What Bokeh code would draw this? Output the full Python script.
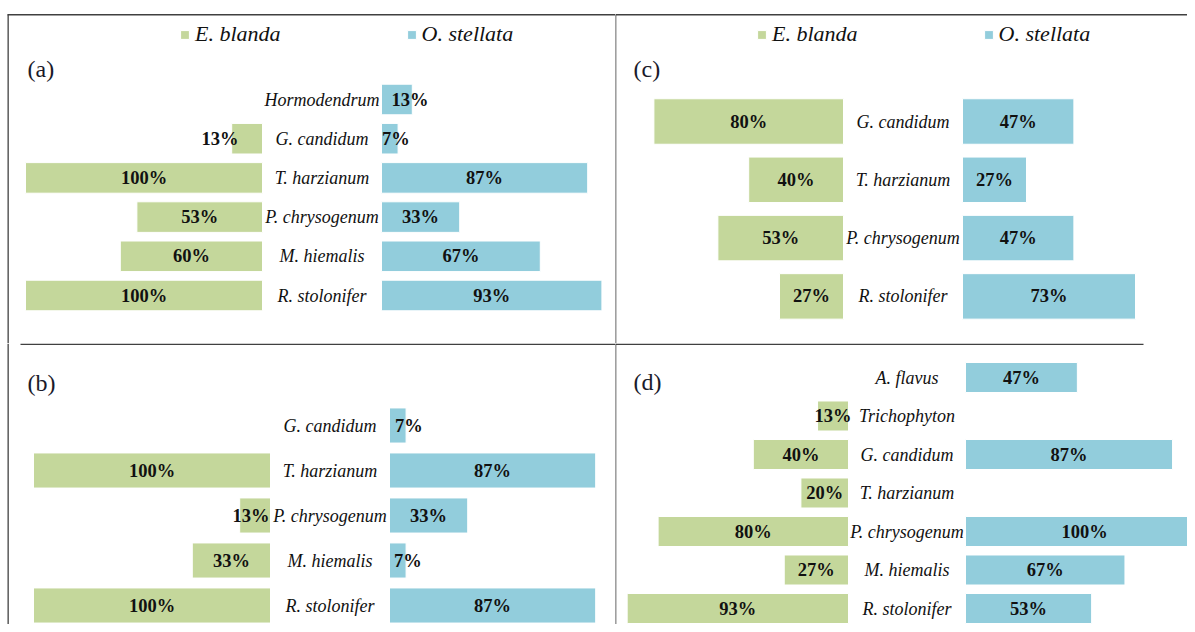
from bokeh.plotting import figure
from bokeh.models import Range1d, ColumnDataSource, Legend, LegendItem, Label, BoxAnnotation
from bokeh.layouts import row, column
from bokeh.embed import file_html
from bokeh.resources import INLINE
from bokeh.core.properties import value

# ---------------- data ----------------
SERIES = ["E. blanda", "O. stellata"]

a_species = ["Hormodendrum", "G. candidum", "T. harzianum", "P. chrysogenum", "M. hiemalis", "R. stolonifer"]
a_blanda = [0, 13, 100, 53, 60, 100]
a_stellata = [13, 7, 87, 33, 67, 93]

b_species = ["G. candidum", "T. harzianum", "P. chrysogenum", "M. hiemalis", "R. stolonifer"]
b_blanda = [0, 100, 13, 33, 100]
b_stellata = [7, 87, 33, 7, 87]

c_species = ["G. candidum", "T. harzianum", "P. chrysogenum", "R. stolonifer"]
c_blanda = [80, 40, 53, 27]
c_stellata = [47, 27, 47, 73]

d_species = ["A. flavus", "Trichophyton", "G. candidum", "T. harzianum", "P. chrysogenum", "M. hiemalis", "R. stolonifer"]
d_blanda = [0, 13, 40, 20, 80, 27, 93]
d_stellata = [47, 0, 87, 0, 100, 67, 53]

# ---------------- style ----------------
GREEN = "#c4d79b"
BLUE = "#92cddc"
LINE = "#404040"
FONT = "Liberation Serif"

# panel geometry in picture pixels
SPEC = {
    "a": dict(x0=0, y0=0, w=615, h=343, e_base=262, o_base=381, scale=2.37, row0=99, spacing=39.2,
              tag=(27, 275), legend=(179, 296)),
    "b": dict(x0=0, y0=343, w=615, h=281, e_base=270, o_base=389, scale=2.37, row0=425, spacing=45.0,
              tag=(27, 242)),
    "c": dict(x0=615, y0=0, w=572, h=343, e_base=843, o_base=962, scale=2.37, row0=121, spacing=58.3,
              tag=(18, 275), legend=(141, 296)),
    "d": dict(x0=615, y0=343, w=572, h=281, e_base=848, o_base=965, scale=2.38, row0=377, spacing=38.5,
              tag=(18, 243)),
}
# label nudges (px) for narrow bars
E_DX = {"a": {1: -27}, "b": {2: -4}}
O_DX = {"a": {0: 13, 1: 6}, "b": {0: 11, 3: 10}}


def rule(p, s, L, R, T, B):
    """thin dark rule given in picture px"""
    p.add_layout(BoxAnnotation(
        left=L - s["x0"], right=R - s["x0"],
        top=s["h"] - (T - s["y0"]), bottom=s["h"] - (B - s["y0"]),
        left_units="screen", right_units="screen", top_units="screen", bottom_units="screen",
        fill_color=LINE, fill_alpha=1, line_color=None, level="overlay"))


def make_panel(key, species, ev, ov):
    s = SPEC[key]
    c = (s["e_base"] + s["o_base"]) / 2
    g = (s["o_base"] - s["e_base"]) / 2 / s["scale"]
    xs = (s["x0"] - c) / s["scale"]
    xe = (s["x0"] + s["w"] - c) / s["scale"]
    ytop = (s["row0"] - s["y0"]) / s["spacing"]
    ybot = -(s["y0"] + s["h"] - s["row0"]) / s["spacing"]

    p = figure(width=s["w"], height=s["h"], x_range=Range1d(xs, xe), y_range=Range1d(ybot, ytop),
               output_backend="svg", toolbar_location=None, x_axis_location=None,
               y_axis_location=None, min_border=0, outline_line_color=None)
    p.grid.visible = False
    p.background_fill_color = "white"

    ys = [-i for i in range(len(species))]
    e_idx = [i for i, v in enumerate(ev) if v > 0]
    o_idx = [i for i, v in enumerate(ov) if v > 0]
    esrc = ColumnDataSource(dict(
        y=[ys[i] for i in e_idx],
        left=[-g - ev[i] for i in e_idx],
        right=[-g] * len(e_idx),
        mid=[-g - ev[i] / 2 for i in e_idx],
        lab=[f"{ev[i]}%" for i in e_idx],
        dx=[E_DX.get(key, {}).get(i, 0) for i in e_idx],
    ))
    osrc = ColumnDataSource(dict(
        y=[ys[i] for i in o_idx],
        left=[g] * len(o_idx),
        right=[g + ov[i] for i in o_idx],
        mid=[g + ov[i] / 2 for i in o_idx],
        lab=[f"{ov[i]}%" for i in o_idx],
        dx=[O_DX.get(key, {}).get(i, 0) for i in o_idx],
    ))
    rE = p.hbar(y="y", left="left", right="right", height=0.78, source=esrc,
                fill_color=GREEN, line_color="white", line_width=1)
    rO = p.hbar(y="y", left="left", right="right", height=0.78, source=osrc,
                fill_color=BLUE, line_color="white", line_width=1)
    for src in (esrc, osrc):
        p.text(x="mid", y="y", text="lab", source=src, x_offset="dx",
               text_font=value(FONT), text_font_style="bold", text_font_size="18.5px",
               text_align="center", text_baseline="middle", text_color="#111111")
    p.text(x=[0] * len(species), y=ys, text=species,
           text_font=value(FONT), text_font_style="italic", text_font_size="18px",
           text_align="center", text_baseline="middle", text_color="#111111")

    tx, ty = s["tag"]
    p.add_layout(Label(x=tx, y=ty, x_units="screen", y_units="screen", text=f"({key})",
                       text_font=FONT, text_font_size="24px", text_baseline="middle",
                       text_color="#1a1a2a"))

    if "legend" in s:
        lx, ly = s["legend"]
        leg = Legend(items=[LegendItem(label=SERIES[0], renderers=[rE]),
                            LegendItem(label=SERIES[1], renderers=[rO])],
                     orientation="horizontal", location=(lx, ly),
                     glyph_width=11, glyph_height=11, label_standoff=5, spacing=125,
                     padding=0, margin=0, border_line_color=None, background_fill_alpha=0,
                     label_text_font=FONT, label_text_font_style="italic",
                     label_text_font_size="22px", label_text_color="#111111",
                     click_policy="none")
        p.add_layout(leg)
    return p


pa = make_panel("a", a_species, a_blanda, a_stellata)
pb = make_panel("b", b_species, b_blanda, b_stellata)
pc = make_panel("c", c_species, c_blanda, c_stellata)
pd = make_panel("d", d_species, d_blanda, d_stellata)

# frame rules
rule(pa, SPEC["a"], 7, 615, 13.5, 15)       # top border
rule(pc, SPEC["c"], 615, 1187, 13.5, 15)
rule(pa, SPEC["a"], 7, 8.3, 14, 343)        # left border
rule(pb, SPEC["b"], 7, 8.3, 343, 624)
rule(pc, SPEC["c"], 614.5, 615.8, 14, 343)  # vertical divider
rule(pd, SPEC["d"], 614.5, 615.8, 343, 624)
rule(pb, SPEC["b"], 20, 615, 343, 344.5)    # horizontal divider
rule(pd, SPEC["d"], 615, 1143, 343, 344.5)

layout = row(column(pa, pb, spacing=0), column(pc, pd, spacing=0), spacing=0)

with open("out.html", "w") as f:
    f.write(file_html(layout, INLINE))
